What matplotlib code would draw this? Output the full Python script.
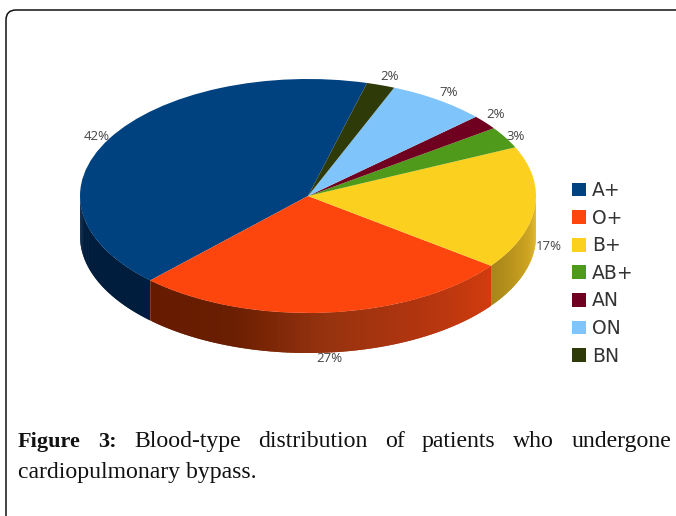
import numpy as np
import matplotlib
matplotlib.use("Agg")
import matplotlib.pyplot as plt
from matplotlib.path import Path
from matplotlib.patches import PathPatch
from matplotlib.colors import to_rgb

categories = ["A+", "O+", "B+", "AB+", "AN", "ON", "BN"]
values = [42, 27, 17, 3, 2, 7, 2]
colors = ["#00427f", "#fd450e", "#fbd01e", "#4f9a1a", "#70001f", "#7fc4fb", "#2e3a08"]
label_px = [(97, 137), (329, 359), (549, 247), (516, 136), (496, 115), (449, 92), (390, 77)]
wall_stops = {
    "A+": [(0.0, "#001d3d"), (1.0, "#001d3d")],
    "O+": [(0.0, "#661b00"), (0.25, "#6a1e02"), (0.5, "#97330f"), (0.75, "#b2350f"), (1.0, "#d23c0e")],
    "B+": [(0.0, "#a8851a"), (0.5, "#c9a020"), (1.0, "#e6bb22")],
}

W, H = 676, 516
CX, CY, RX, RY, DEPTH = 308, 196, 228, 117, 40
START = 75

fig = plt.figure(figsize=(W / 100, H / 100), dpi=100, facecolor="white")
ax = fig.add_axes([0, 0, 1, 1])
wedges, _ = ax.pie(values, colors=colors, startangle=START, counterclock=True,
                   wedgeprops=dict(linewidth=0, zorder=5))
ax.set_aspect("auto")
ax.set_xlim((0 - CX) / RX, (W - CX) / RX)
ax.set_ylim((CY - H) / RY, CY / RY)
ax.axis("off")

# side wall, built from the same slice angles
edges = START + 360 * np.cumsum([0] + values) / sum(values)
d = DEPTH / RY
for cat, a0, a1 in zip(categories, edges[:-1], edges[1:]):
    if cat not in wall_stops:
        continue
    stops = wall_stops[cat]
    pos = [s[0] for s in stops]
    rgb = np.array([to_rgb(s[1]) for s in stops])
    lo = max(a0, 180)
    hi = min(a1, 360)
    n = max(int((hi - lo) * 1.5), 2)
    th = np.linspace(lo, hi, n + 1)
    for i in range(n):
        t = np.radians(np.linspace(th[i], th[i + 1] + (0.6 if i < n - 1 else 0), 4))
        x = np.cos(t)
        y = np.sin(t)
        f = (i + 0.5) / n
        c = [np.interp(f, pos, rgb[:, k]) for k in range(3)]
        ax.fill(np.r_[x, x[::-1]], np.r_[y, y[::-1] - d], color=c, linewidth=0, zorder=2)

# overlay in pixel coordinates
ov = fig.add_axes([0, 0, 1, 1], facecolor="none")
ov.set_xlim(0, W)
ov.set_ylim(H, 0)
ov.axis("off")

frame = Path([(6, H + 5), (6, 20), (6, 10), (16, 10), (W + 5, 10)],
             [Path.MOVETO, Path.LINETO, Path.CURVE3, Path.CURVE3, Path.LINETO])
ov.add_patch(PathPatch(frame, fc="none", ec="#111111", lw=1.1))

label_font = "Open Sans"
for v, (px, py) in zip(values, label_px):
    ov.text(px, py, f"{v}%", ha="center", va="center", fontsize=9.5,
            color="#444444", family=label_font, zorder=10)

fig.legend(wedges, categories, loc="upper left", bbox_to_anchor=(572 / W, 1 - 181 / H),
           frameon=False, handlelength=0.75, handleheight=0.75,
           handletextpad=0.3, labelspacing=0.46, borderpad=0, borderaxespad=0,
           labelcolor="#333333", prop=dict(family="DejaVu Sans", size=13.5))

# justified caption
serif = "Liberation Serif"
words = [("Figure", "bold"), ("3:", "bold"), ("Blood-type", "normal"), ("distribution", "normal"),
         ("of", "normal"), ("patients", "normal"), ("who", "normal"), ("undergone", "normal")]
sizes = {"bold": 16, "normal": 17.1}
fig.canvas.draw()
r = fig.canvas.get_renderer()
arts = [ov.text(18, 447, w, fontsize=sizes[b], family=serif, weight=b, color="#111111", va="baseline")
        for w, b in words]
widths = [a.get_window_extent(r).width for a in arts]
gap = (671 - 18 - sum(widths)) / (len(words) - 1)
x = 18
for a, w in zip(arts, widths):
    a.set_x(x)
    x += w + gap
ov.text(18, 478, "cardiopulmonary bypass.", fontsize=sizes["normal"], family=serif, color="#111111", va="baseline")

fig.savefig("out.png", dpi=100)
